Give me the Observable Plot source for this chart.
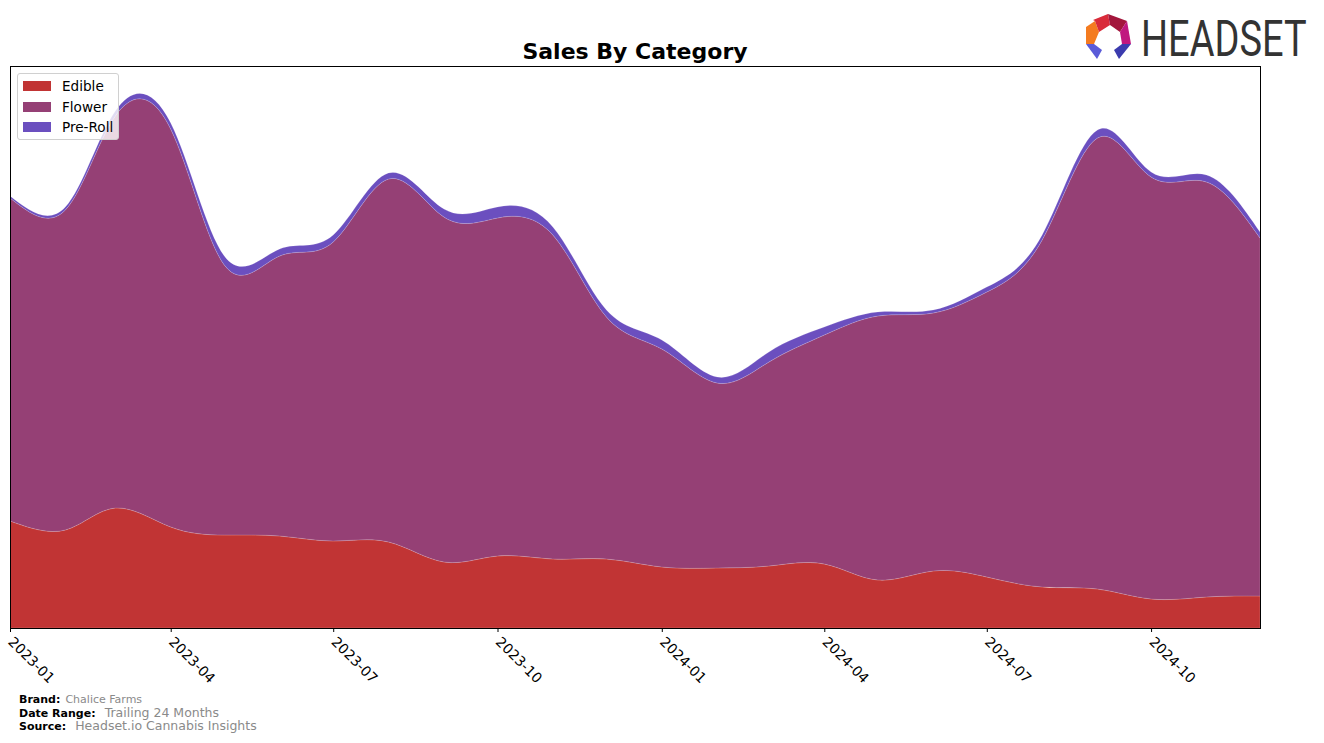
<!DOCTYPE html>
<html>
<head>
<meta charset="utf-8">
<script src="https://cdn.jsdelivr.net/npm/d3@7"></script>
<script src="https://cdn.jsdelivr.net/npm/@observablehq/plot@0.6"></script>
<style>
  body { margin: 0; background: #fff; font-family: "DejaVu Sans", sans-serif; }
  #wrap { position: relative; width: 1324px; height: 743px; overflow: hidden; }
  #chart { position: absolute; left: 0; top: 0; }
  #title { position: absolute; left: 0; width: 1270px; top: 39px; text-align: center; font-weight: bold; font-size: 22px; color: #000; }
  #legend { position: absolute; left: 17px; top: 73px; width: 102px; height: 67px; border: 1px solid #d0d0d0; border-radius: 3px; background: rgba(255,255,255,0.8); box-sizing: border-box; }
  .li { position: absolute; left: 5px; height: 14px; font-size: 13.6px; line-height: 14px; color: #000; }
  .sw { position: absolute; left: 0; top: 2px; width: 28px; height: 10px; }
  .lt { position: absolute; left: 39px; top: 0; white-space: nowrap; }
  .foot { position: absolute; left: 19px; white-space: nowrap; color: #000; }
  .foot b { font-size: 11px; }
  .foot span { color: #8a8a8a; }
  #logo { position: absolute; left: 1076px; top: 0px; pointer-events: none; }
</style>
</head>
<body>
<div id="wrap">
  <div id="chart"></div>
  <div id="logo"><svg width="248" height="84" viewBox="1076 0 248 84">
    <polygon points="1086,27 1095,21 1099,32 1094,44 1086,44" fill="#F47B20"/>
    <polygon points="1093,20 1108,14 1110,25 1099,32 1095,21" fill="#D92B3A"/>
    <polygon points="1108,14 1127,21 1120,32 1110,25" fill="#A3163C"/>
    <polygon points="1127,21 1131,44 1122,44 1120,32" fill="#C0177F"/>
    <polygon points="1086,44 1094,44 1102,50 1097,59" fill="#5A5BD8"/>
    <polygon points="1131,44 1122,44 1114,50 1119,59" fill="#3B3BAE"/>
    <text transform="translate(1141,56) scale(1,1.32)" font-family="Roboto, 'Liberation Sans', sans-serif" font-size="38" fill="#333">HEADSET</text>
  </svg></div>
  <div id="title">Sales By Category</div>
  <div id="legend"></div>
  <div class="foot" style="top:688px;"><b>Brand:</b> <span style="font-size:11px;">Chalice Farms</span></div>
  <div class="foot" style="top:702px;"><b>Date Range:</b> <span style="font-size:12.5px;">&nbsp;Trailing 24 Months</span></div>
  <div class="foot" style="top:715px;"><b>Source:</b> <span style="font-size:12.5px;">&nbsp;Headset.io Cannabis Insights</span></div>
</div>
<script>
const months = ["2023-01","2023-02","2023-03","2023-04","2023-05","2023-06","2023-07","2023-08","2023-09","2023-10","2023-11","2023-12",
                "2024-01","2024-02","2024-03","2024-04","2024-05","2024-06","2024-07","2024-08","2024-09","2024-10","2024-11","2024-12"];
const categories = ["Edible", "Flower", "Pre-Roll"];
const colors = ["#C13434", "#954075", "#6B4FBF"];
const edible  = [107, 98, 120, 101, 93, 92, 87, 86, 66, 72, 69, 69, 61, 60, 62, 64, 48, 57, 51, 41, 39, 29, 31, 32];
const flower  = [323, 320, 392, 398, 270, 280, 299, 363, 345, 338, 324, 242, 218, 185, 204, 229, 264, 258, 285, 347, 451, 422, 415, 358];
const preRoll = [2, 3, 5, 6, 9, 7, 7, 6, 8, 11, 8, 7, 9, 6, 10, 8, 4, 3, 5, 5, 8, 5, 7, 6];
const tickMonths = ["2023-01","2023-04","2023-07","2023-10","2024-01","2024-04","2024-07","2024-10"];

const parse = d3.utcParse("%Y-%m");
const series = [edible, flower, preRoll];
const data = [];
categories.forEach((c, i) => months.forEach((m, j) => data.push({date: parse(m), category: c, value: series[i][j]})));

const chart = Plot.plot({
  width: 1324,
  height: 743,
  marginLeft: 10,
  marginRight: 64,
  marginTop: 66,
  marginBottom: 115,
  style: {fontFamily: "DejaVu Sans, sans-serif", fontSize: "14px", color: "#000", background: "transparent"},
  x: {type: "utc", domain: [parse(months[0]), parse(months[months.length - 1])]},
  y: {domain: [0, 562], axis: null},
  color: {domain: categories, range: colors},
  marks: [
    Plot.areaY(data, {x: "date", y: "value", fill: "category", z: "category", order: categories, curve: "natural", stroke: "#ffffff", strokeOpacity: 0.25, strokeWidth: 0.6}),
    Plot.axisX({ticks: tickMonths.map(parse), tickFormat: d3.utcFormat("%Y-%m"), tickRotate: 45, textAnchor: "start", tickSize: 4, tickPadding: 7, stroke: "#000", label: null, fontSize: "14px"}),
    Plot.frame({stroke: "#000", strokeWidth: 1})
  ]
});
document.getElementById("chart").appendChild(chart);

const legend = document.getElementById("legend");
categories.forEach((c, i) => {
  const row = document.createElement("div");
  row.className = "li";
  row.style.top = (5 + i * 20.5) + "px";
  row.innerHTML = `<div class="sw" style="background:${colors[i]}"></div><div class="lt">${c}</div>`;
  legend.appendChild(row);
});
</script>
</body>
</html>
